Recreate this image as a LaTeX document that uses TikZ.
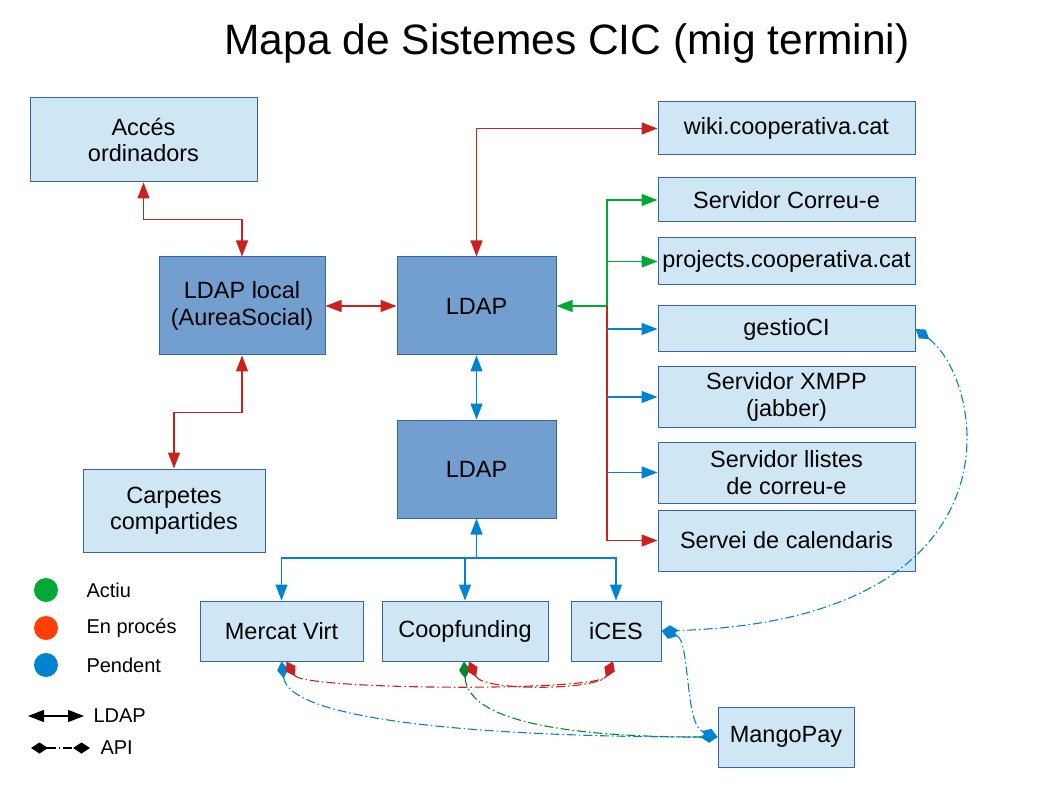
\documentclass[tikz,border=0pt]{standalone}
\usepackage{fontspec}
\setmainfont{Liberation Sans}
\usetikzlibrary{arrows.meta}
\definecolor{bord}{HTML}{3465A4}
\definecolor{lightfill}{HTML}{CFE7F5}
\definecolor{darkfill}{HTML}{729FCF}
\definecolor{cred}{HTML}{C9211E}
\definecolor{cgreen}{HTML}{00A933}
\definecolor{cblue}{HTML}{0084D1}
\definecolor{corange}{HTML}{FF4000}
\definecolor{dgreen}{HTML}{008A2E}
\tikzset{
  box/.style={draw=bord, line width=1pt, fill=lightfill, align=center, inner sep=0pt,
    font=\fontsize{23.5}{26.5}\selectfont},
  dbox/.style={box, fill=darkfill},
  conn/.style={line width=1.2pt},
  both/.style={conn, {Triangle[length=16pt,width=12pt]}-{Triangle[length=16pt,width=12pt]}},
  toend/.style={conn, -{Triangle[length=16pt,width=12pt]}},
  api/.style={line width=1.1pt, dash pattern=on 9pt off 3pt on 1.5pt off 3pt,
    {Diamond[length=17pt,width=11pt,sep=0pt]}-{Diamond[length=17pt,width=11pt]}},
  legtxt/.style={anchor=west, font=\fontsize{20}{23}\selectfont},
}
\begin{document}
\begin{tikzpicture}[x=1pt,y=-1pt]
\useasboundingbox (0,0) rectangle (1058,794);
\node[font=\fontsize{42.5}{48}\selectfont] (title) at (567,44) {Mapa de Sistemes CIC (mig termini)};
% boxes
\node[box, minimum width=227pt, minimum height=84pt] (acc) at (143.5,140) {Accés\\ordinadors};
\node[dbox, minimum width=166pt, minimum height=98pt] (ldl) at (242,306) {LDAP local\\(AureaSocial)};
\node[dbox, minimum width=159pt, minimum height=98pt] (ldap1) at (476.5,306) {LDAP};
\node[dbox, minimum width=159pt, minimum height=98pt] (ldap2) at (476.5,469) {LDAP};
\node[box, minimum width=182pt, minimum height=83pt] (carp) at (174,510.5) {Carpetes\\compartides};
\node[box, minimum width=257pt, minimum height=53pt] (wiki) at (786.5,128.5) {wiki.cooperativa.cat};
\node[box, minimum width=257pt, minimum height=44pt] (corr) at (786.5,200) {Servidor Correu-e};
\node[box, minimum width=257pt, minimum height=47pt] (proj) at (786.5,261.5) {projects.cooperativa.cat};
\node[box, minimum width=257pt, minimum height=46pt] (gest) at (786.5,329) {gestioCI};
\node[box, minimum width=257pt, minimum height=60pt] (xmpp) at (786.5,397) {Servidor XMPP\\(jabber)};
\node[box, minimum width=257pt, minimum height=61pt] (llis) at (786.5,472.5) {Servidor llistes\\de correu-e};
\node[box, minimum width=257pt, minimum height=61pt] (cal) at (786.5,540.5) {Servei de calendaris};
\node[box, minimum width=163pt, minimum height=60pt] (merc) at (281.5,631) {Mercat Virt};
\node[box, minimum width=166pt, minimum height=60pt] (coop) at (465,631) {Coopfunding};
\node[box, minimum width=90pt, minimum height=60pt] (ices) at (616,631) {iCES};
\node[box, minimum width=136pt, minimum height=60pt] (mango) at (786,737) {MangoPay};
% LDAP connectors
\draw[both, cred] (acc.south) -- ++(0,37) -| (ldl.north);
\draw[both, cred] (ldl.south) -- ++(0,57) -| (carp.north);
\draw[both, cred] (ldl.east) -- (ldap1.west);
\draw[both, cred] (ldap1.north) |- (wiki.west);
\draw[both, cblue] (ldap1.south) -- (ldap2.north);
\coordinate (hub) at (607,306);
\draw[toend, cgreen] (hub) -- (ldap1.east);
\draw[toend, cgreen] (hub) |- (corr.west);
\draw[toend, cgreen] (hub) |- (proj.west);
\draw[toend, cred] (hub) |- (cal.west);
\draw[toend, cblue] (gest.west -| hub) -- (gest.west);
\draw[toend, cblue] (xmpp.west -| hub) -- (xmpp.west);
\draw[toend, cblue] (llis.west -| hub) -- (llis.west);
\coordinate (bus) at (476.5,558);
\draw[conn, cblue, {Triangle[length=16pt,width=12pt]}-] (ldap2.south) -- (bus);
\draw[toend, cblue] (bus) -| (merc.north);
\draw[toend, cblue] (bus) -| (coop.north);
\draw[toend, cblue] (bus) -| (ices.north);
% API connectors
\draw[api, cblue] (gest.east) .. controls (985,380) and (1030,620) .. (ices.east);
\draw[api, dgreen] ([xshift=-1pt]coop.south) .. controls (468,722) and (570,737) .. (mango.west);
\draw[api, cblue] (ices.east) .. controls (690,640) and (685,725) .. (mango.west);
\draw[api, cblue] ([xshift=0pt]merc.south) .. controls (290,725) and (520,737) .. (mango.west);
\draw[api, cred] ([xshift=5pt]merc.south) .. controls (303,690) and (600,692) .. ([xshift=-3pt]ices.south);
\draw[api, cred] ([xshift=4pt]coop.south) .. controls (483,692) and (600,690) .. ([xshift=-3pt]ices.south);
% legend
\fill[cgreen] (46,590) circle (12);
\fill[corange] (46,628) circle (12);
\fill[cblue] (46,665) circle (12);
\node[legtxt] (l1) at (83,590) {Actiu};
\node[legtxt] (l2) at (83,628) {En procés};
\node[legtxt] (l3) at (83,665) {Pendent};
\coordinate (la) at (28,716);
\coordinate (lb) at (84,716);
\draw[both, black] (la) -- (lb);
\node[legtxt] (l4) at (90,716) {LDAP};
\coordinate (lc) at (31,748);
\coordinate (ld) at (90,748);
\draw[api, black] (lc) -- (ld);
\node[legtxt] (l5) at (97,748) {API};
\end{tikzpicture}
\end{document}
